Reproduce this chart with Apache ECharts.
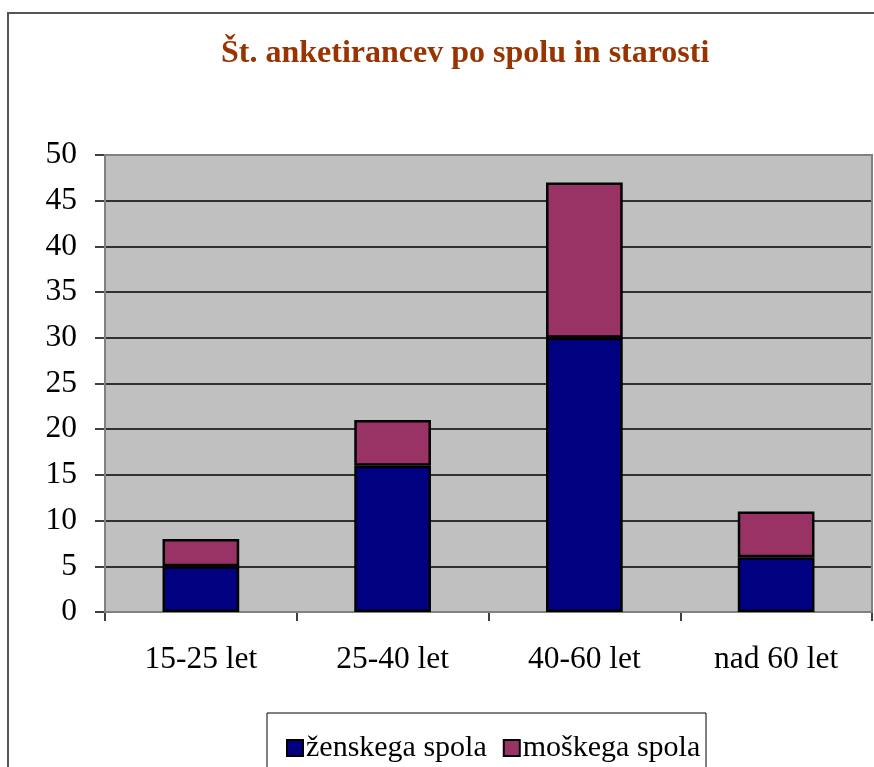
<!DOCTYPE html>
<html>
<head>
<meta charset="utf-8">
<script src="https://cdn.jsdelivr.net/npm/echarts@6/dist/echarts.min.js"></script>
<style>
  html, body { margin: 0; padding: 0; background: #fff; }
  #chart { width: 874px; height: 767px; }
</style>
</head>
<body>
<div id="chart"></div>
<script>
// data
const categories = ["15-25 let", "25-40 let", "40-60 let", "nad 60 let"];
const zenske = [5, 16, 30, 6];
const moski = [3, 5, 17, 5];
const seriesNames = ["ženskega spola", "moškega spola"];

const serif = '"Liberation Serif", "DejaVu Serif", serif';

const chart = echarts.init(document.getElementById("chart"));

chart.setOption({
  backgroundColor: "#fff",
  animation: false,
  title: {
    text: "Št. anketirancev po spolu in starosti",
    left: 216,
    top: 33,
    textStyle: {
      fontFamily: serif,
      fontSize: 32,
      fontWeight: "bold",
      color: "#993300"
    }
  },
  graphic: [
    // outer chart frame
    {
      type: "rect",
      shape: { x: 8, y: 13, width: 900, height: 800 },
      style: { fill: null, stroke: "#555", lineWidth: 2 },
      z: 0
    },
    // plot area border
    {
      type: "rect",
      shape: { x: 105, y: 155, width: 767, height: 457 },
      style: { fill: null, stroke: "#808080", lineWidth: 2 },
      z: 1
    },
    // legend box
    {
      type: "rect",
      shape: { x: 267, y: 713, width: 439, height: 80 },
      style: { fill: "#fff", stroke: "#000", lineWidth: 1 },
      z: 1
    }
  ],
  legend: {
    data: seriesNames,
    left: 281,
    top: 728,
    itemWidth: 16,
    itemHeight: 16,
    itemGap: 16,
    icon: "rect",
    z: 5,
    textStyle: {
      fontFamily: serif,
      fontSize: 30,
      color: "#000",
      padding: [0, 0, 0, -2]
    }
  },
  grid: {
    left: 105,
    top: 155,
    right: 2,
    bottom: 155,
    show: true,
    backgroundColor: "#C0C0C0",
    borderWidth: 0
  },
  xAxis: {
    type: "category",
    data: categories,
    axisLine: { lineStyle: { color: "#000", width: 2 } },
    axisTick: { show: true, length: 9, interval: 0, lineStyle: { color: "#000", width: 1.5 } },
    axisLabel: {
      margin: 32,
      fontFamily: serif,
      fontSize: 31.5,
      color: "#000"
    }
  },
  yAxis: {
    type: "value",
    min: 0,
    max: 50,
    interval: 5,
    axisLine: { show: true, lineStyle: { color: "#000", width: 2 } },
    axisTick: { show: true, length: 10, lineStyle: { color: "#000", width: 1.5 } },
    splitLine: { show: true, lineStyle: { color: "#000", width: 1.5 } },
    axisLabel: {
      margin: 28,
      fontFamily: serif,
      fontSize: 31.5,
      color: "#000"
    }
  },
  series: [
    {
      name: seriesNames[0],
      type: "bar",
      stack: "total",
      data: zenske,
      barWidth: "40%",
      itemStyle: { color: "#000080", borderColor: "#000", borderWidth: 2.5 },
      z: 3
    },
    {
      name: seriesNames[1],
      type: "bar",
      stack: "total",
      data: moski,
      barWidth: "40%",
      itemStyle: { color: "#993366", borderColor: "#000", borderWidth: 2.5 },
      z: 3
    }
  ]
});
</script>
</body>
</html>
